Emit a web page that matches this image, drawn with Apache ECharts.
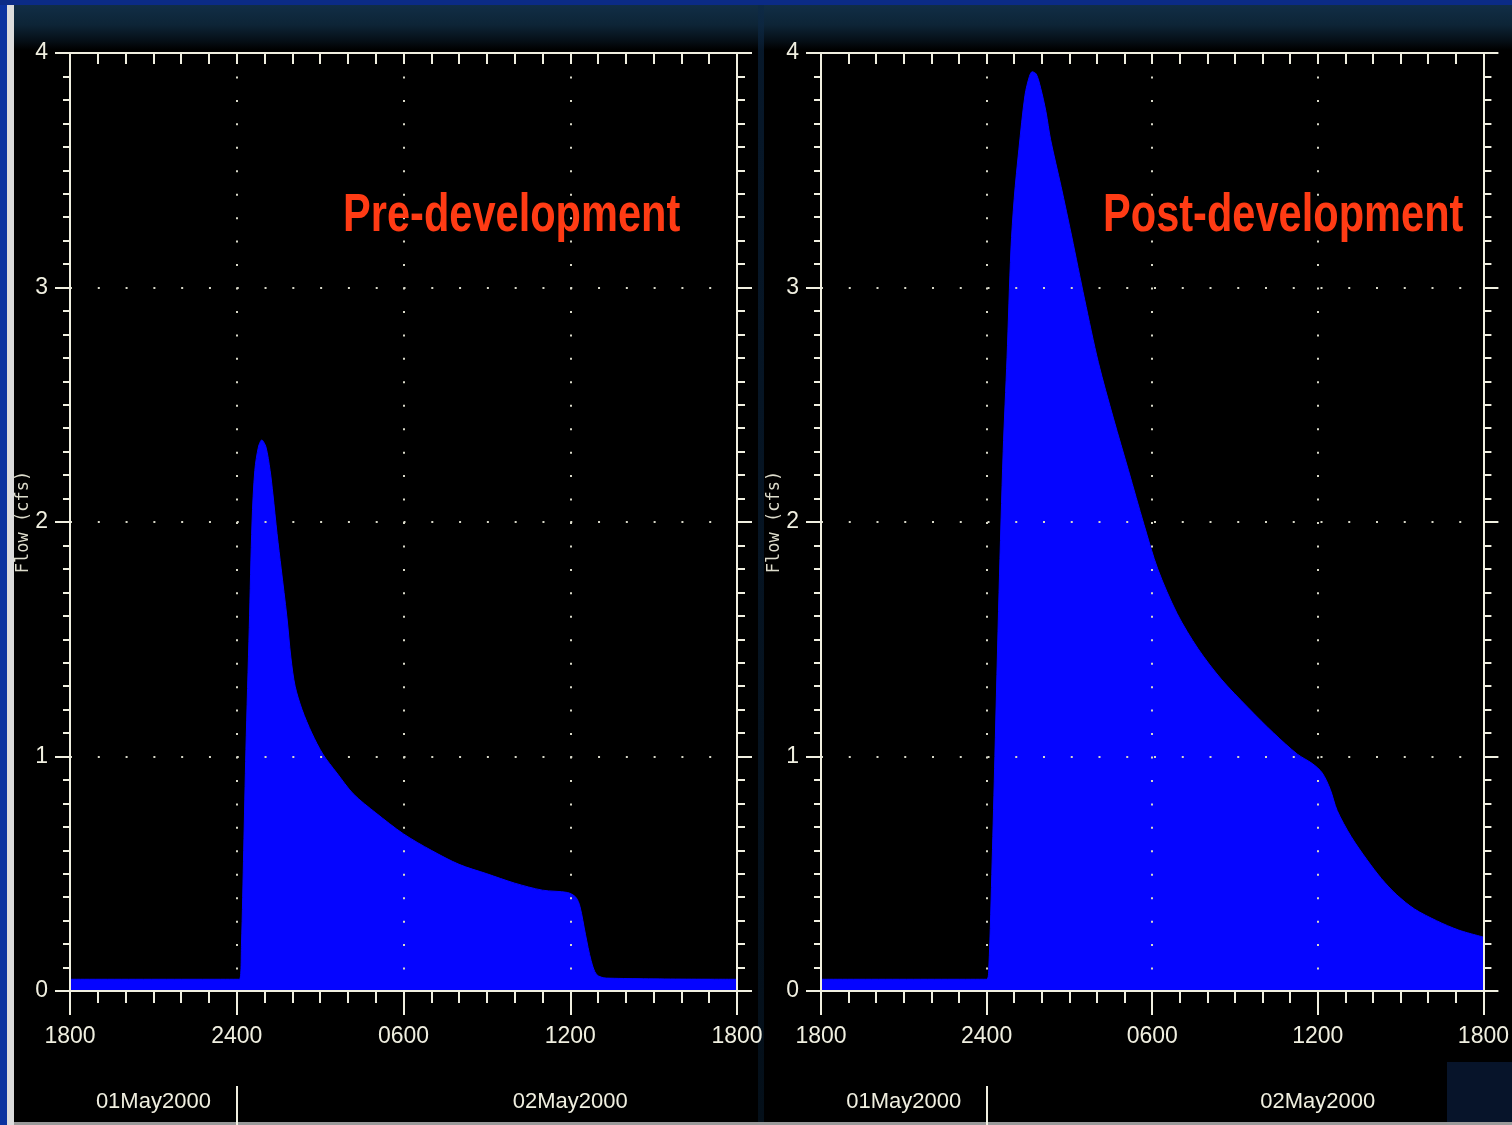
<!DOCTYPE html>
<html>
<head>
<meta charset="utf-8">
<script src="https://cdn.jsdelivr.net/npm/echarts@6/dist/echarts.min.js"></script>
<style>
html,body{margin:0;padding:0;background:#0a2f96;}
#chart{position:absolute;left:0;top:0;width:1512px;height:1125px;
background:
 linear-gradient(#0b2b86,#0b2b86) 0 0/100% 5px no-repeat,
 linear-gradient(#0a32a0,#0a32a0) 0 0/7px 100% no-repeat,
 linear-gradient(#dcdcdc,#dcdcdc) 7px 0/7px 100% no-repeat,
 linear-gradient(#9a9a9a,#9a9a9a) 0 1122px/100% 3px no-repeat,
 linear-gradient(#07142a,#07142a) 1447px 1062px/65px 63px no-repeat,
 linear-gradient(to bottom,rgba(12,40,70,0.6),rgba(8,30,50,0.5)) 758px 0/6px 100% no-repeat,
 linear-gradient(to bottom,#12304a 0px,#0d2436 25px,#050d14 42px,#000 50px) 0 0/100% 100% no-repeat;
}
</style>
</head>
<body>
<div id="chart"></div>
<script>
// ---- data ----
var tickLabels = ['1800', '2400', '0600', '1200', '1800'];
var dateLabels = { 3: '01May2000', 18: '02May2000' };
var panelTitles = ['Pre-development', 'Post-development'];
var yName = 'Flow (cfs)';

// hours after 1800 on 01May2000
var preHours = [0, 6.1, 6.17, 6.25, 6.33, 6.45, 6.55, 6.65, 6.78, 6.9, 7.05, 7.2, 7.3, 7.45, 7.6, 7.8, 7.95, 8.1, 8.35, 8.7, 9.1, 9.6, 10.2, 11, 12, 13, 14, 15, 16, 17, 17.9, 18.2, 18.35, 18.55, 18.75, 18.95, 19.3, 24];
var preFlow  = [0.05, 0.05, 0.2, 0.6, 1.03, 1.55, 2.0, 2.22, 2.32, 2.35, 2.32, 2.22, 2.12, 1.95, 1.8, 1.6, 1.42, 1.3, 1.2, 1.1, 1.01, 0.93, 0.84, 0.76, 0.67, 0.6, 0.54, 0.5, 0.46, 0.43, 0.42, 0.4, 0.36, 0.24, 0.13, 0.07, 0.055, 0.05];

var postHours = [0, 6.0, 6.08, 6.2, 6.3, 6.45, 6.6, 6.74, 6.88, 7.0, 7.17, 7.39, 7.55, 7.65, 7.8, 7.96, 8.15, 8.32, 8.7, 9.08, 9.55, 10.05, 10.6, 11.14, 11.7, 12.2, 12.9, 13.66, 14.5, 15.46, 16.4, 17.26, 17.8, 18.16, 18.45, 18.7, 19.2, 19.78, 20.3, 20.86, 21.5, 22.3, 23.1, 24];
var postFlow  = [0.05, 0.05, 0.1, 0.55, 1.0, 1.7, 2.3, 2.7, 3.16, 3.38, 3.59, 3.82, 3.9, 3.92, 3.91, 3.85, 3.75, 3.63, 3.43, 3.22, 2.95, 2.68, 2.44, 2.22, 1.99, 1.8, 1.61, 1.46, 1.33, 1.21, 1.1, 1.01, 0.97, 0.93, 0.86, 0.77, 0.66, 0.56, 0.48, 0.41, 0.35, 0.3, 0.26, 0.23];

function pairs(xs, ys) { return xs.map(function (x, i) { return [x, ys[i]]; }); }

var AX = '#f0efe0';
var labelFont = "'Liberation Sans',sans-serif";

var grids = [
  { left: 70, top: 53, width: 667, height: 938 },
  { left: 821, top: 53, width: 666, height: 938 }
];

var xAxes = [], yAxes = [], series = [];
var hourPx = [667 / 24, 666 / 24];
var tenthPx = 938 / 40;

[0, 1].forEach(function (g) {
  var common = { gridIndex: g, type: 'value', min: 0, max: 24, interval: 6, z: 5 };
  // bottom time axis
  xAxes.push(Object.assign({}, common, {
    position: 'bottom',
    axisLine: { onZero: false, lineStyle: { color: AX, width: 2 } },
    axisTick: { length: 24, lineStyle: { color: AX, width: 2 } },
    minorTick: { show: true, splitNumber: 6, length: 12, lineStyle: { color: AX, width: 2 } },
    axisLabel: { margin: 34, color: AX, fontSize: 23, fontFamily: labelFont,
      formatter: function (v) { return tickLabels[Math.round(v / 6)]; } },
    splitLine: { show: true, lineStyle: { color: '#d8d8c8', width: 2, type: [2, tenthPx - 2] } }
  }));
  // top axis
  xAxes.push(Object.assign({}, common, {
    position: 'top',
    axisLine: { onZero: false, lineStyle: { color: AX, width: 2 } },
    axisTick: { inside: true, length: 11, lineStyle: { color: AX, width: 2 } },
    minorTick: { show: true, splitNumber: 6, length: 11, lineStyle: { color: AX, width: 2 } },
    axisLabel: { show: false },
    splitLine: { show: false }
  }));
  // date axis
  xAxes.push(Object.assign({}, common, {
    position: 'bottom', offset: 95,
    axisLine: { show: false, onZero: false },
    axisTick: { show: true, customValues: [6], length: 40, lineStyle: { color: AX, width: 2 } },
    axisLabel: { margin: 5, color: AX, fontSize: 22, fontFamily: labelFont, customValues: [3, 18],
      formatter: function (v) { return dateLabels[Math.round(v)] || ''; } },
    splitLine: { show: false }
  }));

  var ycommon = { gridIndex: g, type: 'value', min: 0, max: 4, interval: 1, z: 5 };
  yAxes.push(Object.assign({}, ycommon, {
    position: 'left',
    name: yName, nameLocation: 'middle', nameGap: 38, nameMoveOverlap: false,
    nameTextStyle: { color: '#dddccc', fontSize: 17, fontFamily: "'DejaVu Sans Mono',monospace" },
    axisLine: { onZero: false, lineStyle: { color: AX, width: 2 } },
    axisTick: { length: 15, lineStyle: { color: AX, width: 2 } },
    minorTick: { show: true, splitNumber: 10, length: 7, lineStyle: { color: AX, width: 2 } },
    axisLabel: { margin: 22, color: AX, fontSize: 23, fontFamily: labelFont },
    splitLine: { show: true, lineStyle: { color: '#d8d8c8', width: 2, type: [2, hourPx[g] - 2] } }
  }));
  yAxes.push(Object.assign({}, ycommon, {
    position: 'right',
    axisLine: { onZero: false, lineStyle: { color: AX, width: 2 } },
    axisTick: { length: 15, lineStyle: { color: AX, width: 2 } },
    minorTick: { show: true, splitNumber: 10, length: 8, lineStyle: { color: AX, width: 2 } },
    axisLabel: { show: false },
    splitLine: { show: false }
  }));

  series.push({
    type: 'line',
    xAxisIndex: g * 3, yAxisIndex: g * 2,
    data: g === 0 ? pairs(preHours, preFlow) : pairs(postHours, postFlow),
    showSymbol: false, symbol: 'none',
    smooth: 0.3,
    lineStyle: { color: '#0505ff', width: 1 },
    areaStyle: { color: '#0505ff', opacity: 1 },
    z: 2, animation: false
  });
});

var titleStyle = { fill: '#ff3b14', fontSize: 54, fontWeight: 'bold', fontFamily: labelFont };
var graphics = [
  { type: 'text', x: 343, y: 189, scaleX: 0.77, z: 10,
    style: Object.assign({ text: panelTitles[0], verticalAlign: 'top' }, titleStyle) },
  { type: 'text', x: 1103, y: 189, scaleX: 0.77, z: 10,
    style: Object.assign({ text: panelTitles[1], verticalAlign: 'top' }, titleStyle) }
];

var chart = echarts.init(document.getElementById('chart'), null, { renderer: 'canvas' });
chart.setOption({
  backgroundColor: 'transparent',
  animation: false,
  grid: grids,
  xAxis: xAxes,
  yAxis: yAxes,
  series: series,
  graphic: graphics
});
</script>
</body>
</html>
